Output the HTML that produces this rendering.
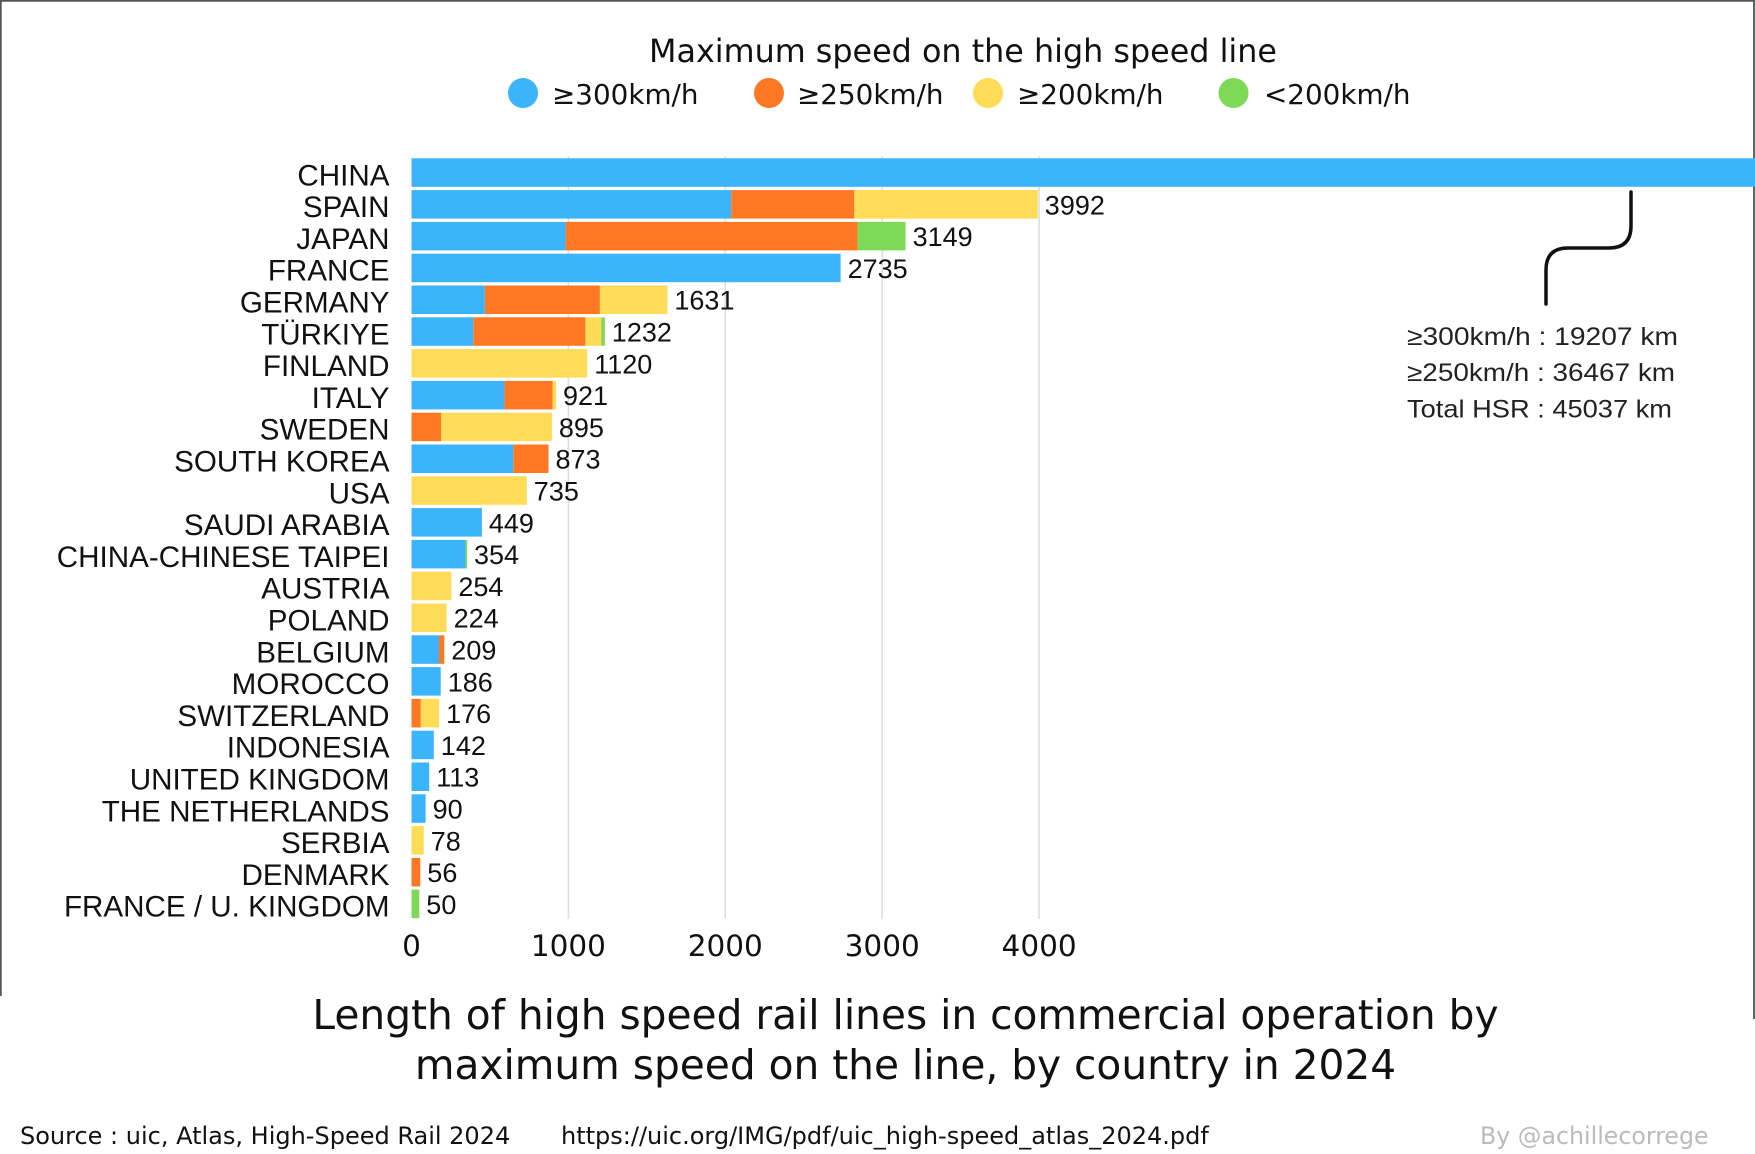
<!DOCTYPE html>
<html>
<head>
<meta charset="utf-8">
<style>
html,body{margin:0;padding:0;background:#fff;}
svg{display:block;}
.dj{font-family:"DejaVu Sans","Liberation Sans",sans-serif;}
.lb{font-family:"Liberation Sans","DejaVu Sans",sans-serif;}
</style>
</head>
<body>
<svg width="1755" height="1154" viewBox="0 0 1755 1154" xmlns="http://www.w3.org/2000/svg">
<rect x="0" y="0" width="1755" height="1154" fill="#fff"/>
<!-- borders -->
<line x1="0" y1="0.8" x2="1755" y2="0.8" stroke="#555" stroke-width="1.8"/>
<line x1="0.8" y1="0" x2="0.8" y2="996" stroke="#555" stroke-width="1.8"/>
<line x1="1754" y1="0" x2="1754" y2="1019" stroke="#555" stroke-width="1.8"/>

<!-- legend -->
<text class="dj" x="963" y="62" font-size="31.8" text-anchor="middle" fill="#111">Maximum speed on the high speed line</text>
<circle cx="523" cy="93" r="15" fill="#3bb4fc"/>
<text class="dj" x="552" y="104" font-size="27.8" fill="#111">≥300km/h</text>
<circle cx="769" cy="93" r="15" fill="#fe7722"/>
<text class="dj" x="797" y="104" font-size="27.8" fill="#111">≥250km/h</text>
<circle cx="988" cy="93" r="15" fill="#ffdc57"/>
<text class="dj" x="1017" y="104" font-size="27.8" fill="#111">≥200km/h</text>
<circle cx="1233.5" cy="93" r="15" fill="#7dd956"/>
<text class="dj" x="1264" y="104" font-size="27.8" fill="#111">&lt;200km/h</text>

<!-- gridlines -->
<g stroke="#dedede" stroke-width="1.6">
<line x1="568.4" y1="156" x2="568.4" y2="919"/>
<line x1="725.3" y1="156" x2="725.3" y2="919"/>
<line x1="882.2" y1="156" x2="882.2" y2="919"/>
<line x1="1039.1" y1="156" x2="1039.1" y2="919"/>
</g>

<!-- bars -->
<g>
<rect x="411.5" y="158.3" width="1343.5" height="28.5" fill="#3bb4fc"/>
<rect x="411.5" y="190.1" width="319.8" height="28.5" fill="#3bb4fc"/>
<rect x="731.3" y="190.1" width="123" height="28.5" fill="#fe7722"/>
<rect x="854.3" y="190.1" width="183.5" height="28.5" fill="#ffdc57"/>
<rect x="411.5" y="221.9" width="154.2" height="28.5" fill="#3bb4fc"/>
<rect x="565.7" y="221.9" width="291.9" height="28.5" fill="#fe7722"/>
<rect x="857.6" y="221.9" width="48" height="28.5" fill="#7dd956"/>
<rect x="411.5" y="253.7" width="429.1" height="28.5" fill="#3bb4fc"/>
<rect x="411.5" y="285.5" width="73.3" height="28.5" fill="#3bb4fc"/>
<rect x="484.8" y="285.5" width="115.1" height="28.5" fill="#fe7722"/>
<rect x="599.9" y="285.5" width="67.5" height="28.5" fill="#ffdc57"/>
<rect x="411.5" y="317.3" width="61.8" height="28.5" fill="#3bb4fc"/>
<rect x="473.3" y="317.3" width="112.1" height="28.5" fill="#fe7722"/>
<rect x="585.4" y="317.3" width="15.9" height="28.5" fill="#ffdc57"/>
<rect x="601.3" y="317.3" width="3.5" height="28.5" fill="#7dd956"/>
<rect x="411.5" y="349.1" width="175.7" height="28.5" fill="#ffdc57"/>
<rect x="411.5" y="380.9" width="92.9" height="28.5" fill="#3bb4fc"/>
<rect x="504.4" y="380.9" width="48.3" height="28.5" fill="#fe7722"/>
<rect x="552.7" y="380.9" width="3.3" height="28.5" fill="#ffdc57"/>
<rect x="411.5" y="412.7" width="29.5" height="28.5" fill="#fe7722"/>
<rect x="441" y="412.7" width="110.9" height="28.5" fill="#ffdc57"/>
<rect x="411.5" y="444.5" width="101.8" height="28.5" fill="#3bb4fc"/>
<rect x="513.3" y="444.5" width="35.2" height="28.5" fill="#fe7722"/>
<rect x="411.5" y="476.3" width="115.3" height="28.5" fill="#ffdc57"/>
<rect x="411.5" y="508.1" width="70.4" height="28.5" fill="#3bb4fc"/>
<rect x="411.5" y="539.9" width="54.1" height="28.5" fill="#3bb4fc"/>
<rect x="465.6" y="539.9" width="1.6" height="28.5" fill="#7dd956"/>
<rect x="411.5" y="571.7" width="39.9" height="28.5" fill="#ffdc57"/>
<rect x="411.5" y="603.5" width="35.1" height="28.5" fill="#ffdc57"/>
<rect x="411.5" y="635.3" width="27.5" height="28.5" fill="#3bb4fc"/>
<rect x="439" y="635.3" width="5.3" height="28.5" fill="#fe7722"/>
<rect x="411.5" y="667.1" width="29.2" height="28.5" fill="#3bb4fc"/>
<rect x="411.5" y="698.9" width="9.3" height="28.5" fill="#fe7722"/>
<rect x="420.8" y="698.9" width="18.3" height="28.5" fill="#ffdc57"/>
<rect x="411.5" y="730.7" width="22.3" height="28.5" fill="#3bb4fc"/>
<rect x="411.5" y="762.5" width="17.7" height="28.5" fill="#3bb4fc"/>
<rect x="411.5" y="794.3" width="14.1" height="28.5" fill="#3bb4fc"/>
<rect x="411.5" y="826.1" width="12.2" height="28.5" fill="#ffdc57"/>
<rect x="411.5" y="857.9" width="8.8" height="28.5" fill="#fe7722"/>
<rect x="411.5" y="889.7" width="7.8" height="28.5" fill="#7dd956"/>
</g>

<!-- country labels -->
<g class="lb" font-size="29.6" fill="#111" text-anchor="end">
<text x="389.5" y="185.3">CHINA</text>
<text x="389.5" y="217.1">SPAIN</text>
<text x="389.5" y="248.9">JAPAN</text>
<text x="389.5" y="280.7">FRANCE</text>
<text x="389.5" y="312.5">GERMANY</text>
<text x="389.5" y="344.3">TÜRKIYE</text>
<text x="389.5" y="376.1">FINLAND</text>
<text x="389.5" y="407.9">ITALY</text>
<text x="389.5" y="439.7">SWEDEN</text>
<text x="389.5" y="471.5">SOUTH KOREA</text>
<text x="389.5" y="503.3">USA</text>
<text x="389.5" y="535.1">SAUDI ARABIA</text>
<text x="389.5" y="566.9">CHINA-CHINESE TAIPEI</text>
<text x="389.5" y="598.7">AUSTRIA</text>
<text x="389.5" y="630.5">POLAND</text>
<text x="389.5" y="662.3">BELGIUM</text>
<text x="389.5" y="694.1">MOROCCO</text>
<text x="389.5" y="725.9">SWITZERLAND</text>
<text x="389.5" y="757.7">INDONESIA</text>
<text x="389.5" y="789.5">UNITED KINGDOM</text>
<text x="389.5" y="821.3">THE NETHERLANDS</text>
<text x="389.5" y="853.1">SERBIA</text>
<text x="389.5" y="884.9">DENMARK</text>
<text x="389.5" y="916.7">FRANCE / U. KINGDOM</text>
</g>

<!-- value labels -->
<g class="lb" font-size="27" fill="#111">
<text x="1044.8" y="214.3">3992</text>
<text x="912.6" y="246.1">3149</text>
<text x="847.6" y="277.9">2735</text>
<text x="674.4" y="309.7">1631</text>
<text x="611.8" y="341.5">1232</text>
<text x="594.2" y="373.3">1120</text>
<text x="563" y="405.1">921</text>
<text x="558.9" y="436.9">895</text>
<text x="555.5" y="468.7">873</text>
<text x="533.8" y="500.5">735</text>
<text x="488.9" y="532.3">449</text>
<text x="474" y="564.1">354</text>
<text x="458.4" y="595.9">254</text>
<text x="453.6" y="627.7">224</text>
<text x="451.3" y="659.5">209</text>
<text x="447.7" y="691.3">186</text>
<text x="446.1" y="723.1">176</text>
<text x="440.8" y="754.9">142</text>
<text x="436.2" y="786.7">113</text>
<text x="432.6" y="818.5">90</text>
<text x="430.7" y="850.3">78</text>
<text x="427.3" y="882.1">56</text>
<text x="426.3" y="913.9">50</text>
</g>

<!-- x ticks -->
<g class="dj" font-size="29.5" fill="#111" text-anchor="middle">
<text x="411.5" y="956">0</text>
<text x="568.4" y="956">1000</text>
<text x="725.3" y="956">2000</text>
<text x="882.2" y="956">3000</text>
<text x="1039.1" y="956">4000</text>
</g>

<!-- annotation connector -->
<path d="M1631,192 V226 Q1631,248 1609,248 H1568 Q1546,248 1546,270 V304" fill="none" stroke="#111" stroke-width="3.5" stroke-linecap="round"/>
<g class="lb" font-size="25" fill="#222">
<text x="1407" y="345" textLength="271" lengthAdjust="spacingAndGlyphs">≥300km/h : 19207 km</text>
<text x="1407" y="381" textLength="268" lengthAdjust="spacingAndGlyphs">≥250km/h : 36467 km</text>
<text x="1407" y="417.5" textLength="265" lengthAdjust="spacingAndGlyphs">Total HSR : 45037 km</text>
</g>

<!-- main title -->
<g class="dj" font-size="40.7" fill="#111" text-anchor="middle">
<text x="905.5" y="1029">Length of high speed rail lines in commercial operation by</text>
<text x="905.5" y="1079">maximum speed on the line, by country in 2024</text>
</g>

<!-- footer -->
<text class="dj" x="20" y="1144" font-size="24" fill="#111">Source : uic, Atlas, High-Speed Rail 2024</text>
<text class="dj" x="561" y="1144" font-size="24" fill="#111">https://uic.org/IMG/pdf/uic_high-speed_atlas_2024.pdf</text>
<text class="dj" x="1480" y="1144" font-size="23.7" fill="#bbb">By @achillecorrege</text>
</svg>
</body>
</html>
